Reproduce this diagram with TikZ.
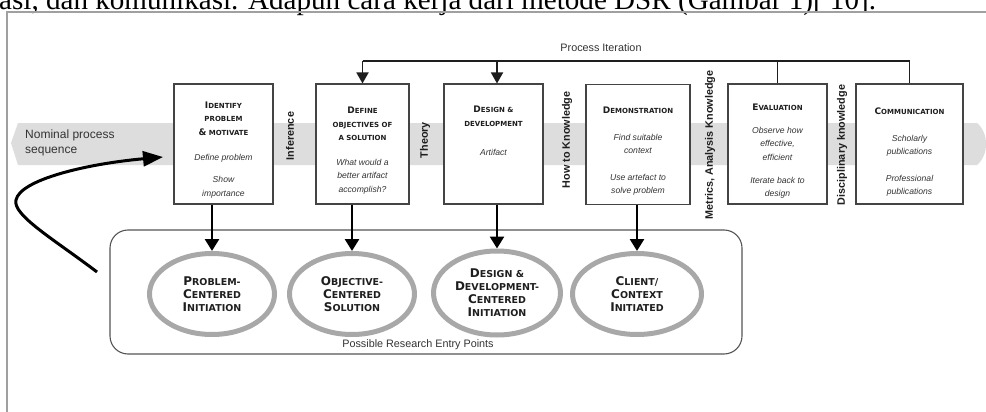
\documentclass[tikz,border=0pt]{standalone}
\usepackage{fontspec}
\setmainfont{Liberation Sans}
\newfontfamily\dvs{DejaVu Sans}
\newfontfamily\tms{Liberation Serif}
\usetikzlibrary{arrows.meta,shapes.geometric}
\definecolor{bandc}{HTML}{DDDDDD}
\definecolor{boxc}{HTML}{444444}
\definecolor{txt}{HTML}{1E1E1E}
\definecolor{itc}{HTML}{333333}
\definecolor{ellc}{HTML}{A8A8A8}
\definecolor{framec}{HTML}{A0A0A0}
\definecolor{rrc}{HTML}{555555}
\newcommand\BT[2]{{\fontsize{9}{13.5}\selectfont #1}{\fontsize{7}{13.5}\selectfont #2}}
\newcommand\ET[2]{{\fontsize{12}{13}\selectfont #1}{\fontsize{9.5}{13}\selectfont #2}}
\begin{document}
\begin{tikzpicture}[x=1pt,y=-1pt,
  box/.style={draw=boxc, line width=1.1pt, fill=white, minimum width=#1, minimum height=120pt, inner sep=0pt},
  ttl/.style={align=center, font=\dvs\bfseries\fontsize{7}{13.5}\selectfont, text=txt, inner sep=0pt},
  itx/.style={align=center, font=\itshape\fontsize{8.6}{13.5}\selectfont, text=itc, inner sep=0pt},
  side/.style={rotate=90, font=\bfseries\fontsize{10.8}{12}\selectfont, text=txt, inner sep=0pt},
  ell/.style={ellipse, draw=ellc, line width=5pt, minimum width=#1, minimum height=81pt, inner sep=0pt, align=center, font=\dvs\bfseries\fontsize{9.5}{13}\selectfont, text=txt},
  iter/.style={draw=txt, line width=1.8pt},
  itarr/.style={iter, -{Triangle[length=11pt,width=12pt]}},
  downarr/.style={draw=black, line width=2.6pt, -{Triangle[length=12pt,width=14pt]}},
  lbl/.style={font=\fontsize{10.8}{12}\selectfont, text=itc, inner sep=0pt}
]
\useasboundingbox (0,0) rectangle (986,412);
\clip (0,0) rectangle (986,412);
\fill[white] (0,0) rectangle (986,412);

% page text (cut) and frame
\node[anchor=base west, font=\tms\fontsize{29.1}{30}\selectfont, inner sep=0pt, text=black] (hdr) at (-1,10) {asi, dan komunikasi. Adapun cara kerja dari metode DSR (Gambar 1)[ 10].};
\draw[framec, line width=1.6pt] (7,412) -- (7,12) -- (986,12);

% nominal process band
\fill[bandc] (18,123) -- (11,143) -- (18,165) -- (977,165) .. controls (983,160) and (986,152) .. (986,144) .. controls (986,136) and (983,128) .. (977,123) -- cycle;
\node[anchor=west, align=left, font=\fontsize{12}{15}\selectfont, text=itc, inner sep=0pt] (nps) at (25,142.5) {Nominal process\\sequence};

% boxes
\node[box=99pt]  (b1) at (223.5,144) {};
\node[box=93pt]  (b2) at (362.5,144) {};
\node[box=99pt]  (b3) at (493.5,144) {};
\node[box=104pt] (b4) at (638,144.5) {};
\node[box=99pt]  (b5) at (777.5,144) {};
\node[box=107pt] (b6) at (909.5,144) {};

% box texts
\node[ttl] (t1) at (223.5,118.5) {\BT{I}{DENTIFY}\\\BT{}{PROBLEM}\\\BT{\&}{ MOTIVATE}};
\node[itx] (i1a) at (223.5,158) {Define problem};
\node[itx, font=\itshape\fontsize{8.6}{14}\selectfont] (i1b) at (223.5,187) {Show\\importance};

\node[ttl] (t2) at (362.5,124) {\BT{D}{EFINE}\\\BT{}{OBJECTIVES OF}\\\BT{}{A SOLUTION}};
\node[itx] (i2a) at (362.5,176.5) {What would a\\better artifact\\accomplish?};

\node[ttl] (t3) at (493.5,116.5) {\BT{D}{ESIGN \&}\\\BT{}{DEVELOPMENT}};
\node[itx] (i3a) at (493.5,152) {Artifact};

\node[ttl] (t4) at (638,110) {\BT{D}{EMONSTRATION}};
\node[itx, font=\itshape\fontsize{8.6}{13}\selectfont] (i4a) at (638,143.5) {Find suitable\\context};
\node[itx, font=\itshape\fontsize{8.6}{13}\selectfont] (i4b) at (638,184.5) {Use artefact to\\solve problem};

\node[ttl] (t5) at (777.5,107) {\BT{E}{VALUATION}};
\node[itx] (i5a) at (777.5,143.5) {Observe how\\effective,\\efficient};
\node[itx, font=\itshape\fontsize{8.6}{12.5}\selectfont] (i5b) at (777.5,188) {Iterate back to\\design};

\node[ttl] (t6) at (909.5,111) {\BT{C}{OMMUNICATION}};
\node[itx, font=\itshape\fontsize{8.6}{13}\selectfont] (i6a) at (909.5,145.5) {Scholarly\\publications};
\node[itx, font=\itshape\fontsize{8.6}{13}\selectfont] (i6b) at (909.5,185.5) {Professional\\publications};

% side labels
\node[side] (s1) at (290,136) {Inference};
\node[side] (s2) at (425,140) {Theory};
\node[side] (s3) at (567,140) {How to Knowledge};
\node[side] (s4) at (710,145) {Metrics, Analysis Knowledge};
\node[side] (s5) at (842,145) {Disciplinary knowledge};

% entry points
\node[draw=rrc, line width=1.1pt, rounded corners=18pt, minimum width=632pt, minimum height=124pt, inner sep=0pt] (rr) at (426,292) {};
\node[ell=125pt] (e1) at (212,294) {\ET{P}{ROBLEM-}\\\ET{C}{ENTERED}\\\ET{I}{NITIATION}};
\node[ell=125pt] (e2) at (352,294) {\ET{O}{BJECTIVE-}\\\ET{C}{ENTERED}\\\ET{S}{OLUTION}};
\node[ell=127pt, minimum height=84pt] (e3) at (497,293) {\ET{D}{ESIGN \&}\\\ET{D}{EVELOPMENT-}\\\ET{C}{ENTERED}\\\ET{I}{NITIATION}};
\node[ell=129pt] (e4) at (637,294) {\ET{C}{LIENT/}\\\ET{C}{ONTEXT}\\\ET{I}{NITIATED}};
\node[lbl] (pre) at (418,345) {Possible Research Entry Points};

% process iteration
\coordinate (pl) at (362.5,61);
\coordinate (pr) at (909.5,61);
\node[lbl, anchor=base] (pit) at (601,51.5) {Process Iteration};
\draw[iter] (b2.north |- pl) -- (pr) -- (b6.north);
\draw[iter] (b5.north |- pl) -- (b5.north);
\draw[itarr] (b2.north |- pl) -- (b2.north);
\draw[itarr] (e3.north |- pl) -- (e3.north |- b3.north);

% arrows down to entry points
\draw[downarr] (e1.north |- b1.south) -- (e1.north);
\draw[downarr] (e2.north |- b2.south) -- (e2.north);
\draw[downarr] (e3.north |- b3.south) -- (e3.north);
\draw[downarr] (e4.north |- b4.south) -- (e4.north);

% curved entry arrow
\coordinate (cs) at (97,272);
\coordinate (cm) at (16,200);
\coordinate (ce) at (163,157);
\draw[line width=3pt, -{Triangle[length=20pt,width=15pt]}] (cs) .. controls (55,240) and (12,215) .. (cm) .. controls (20,180) and (85,164) .. (ce);
\end{tikzpicture}
\end{document}
